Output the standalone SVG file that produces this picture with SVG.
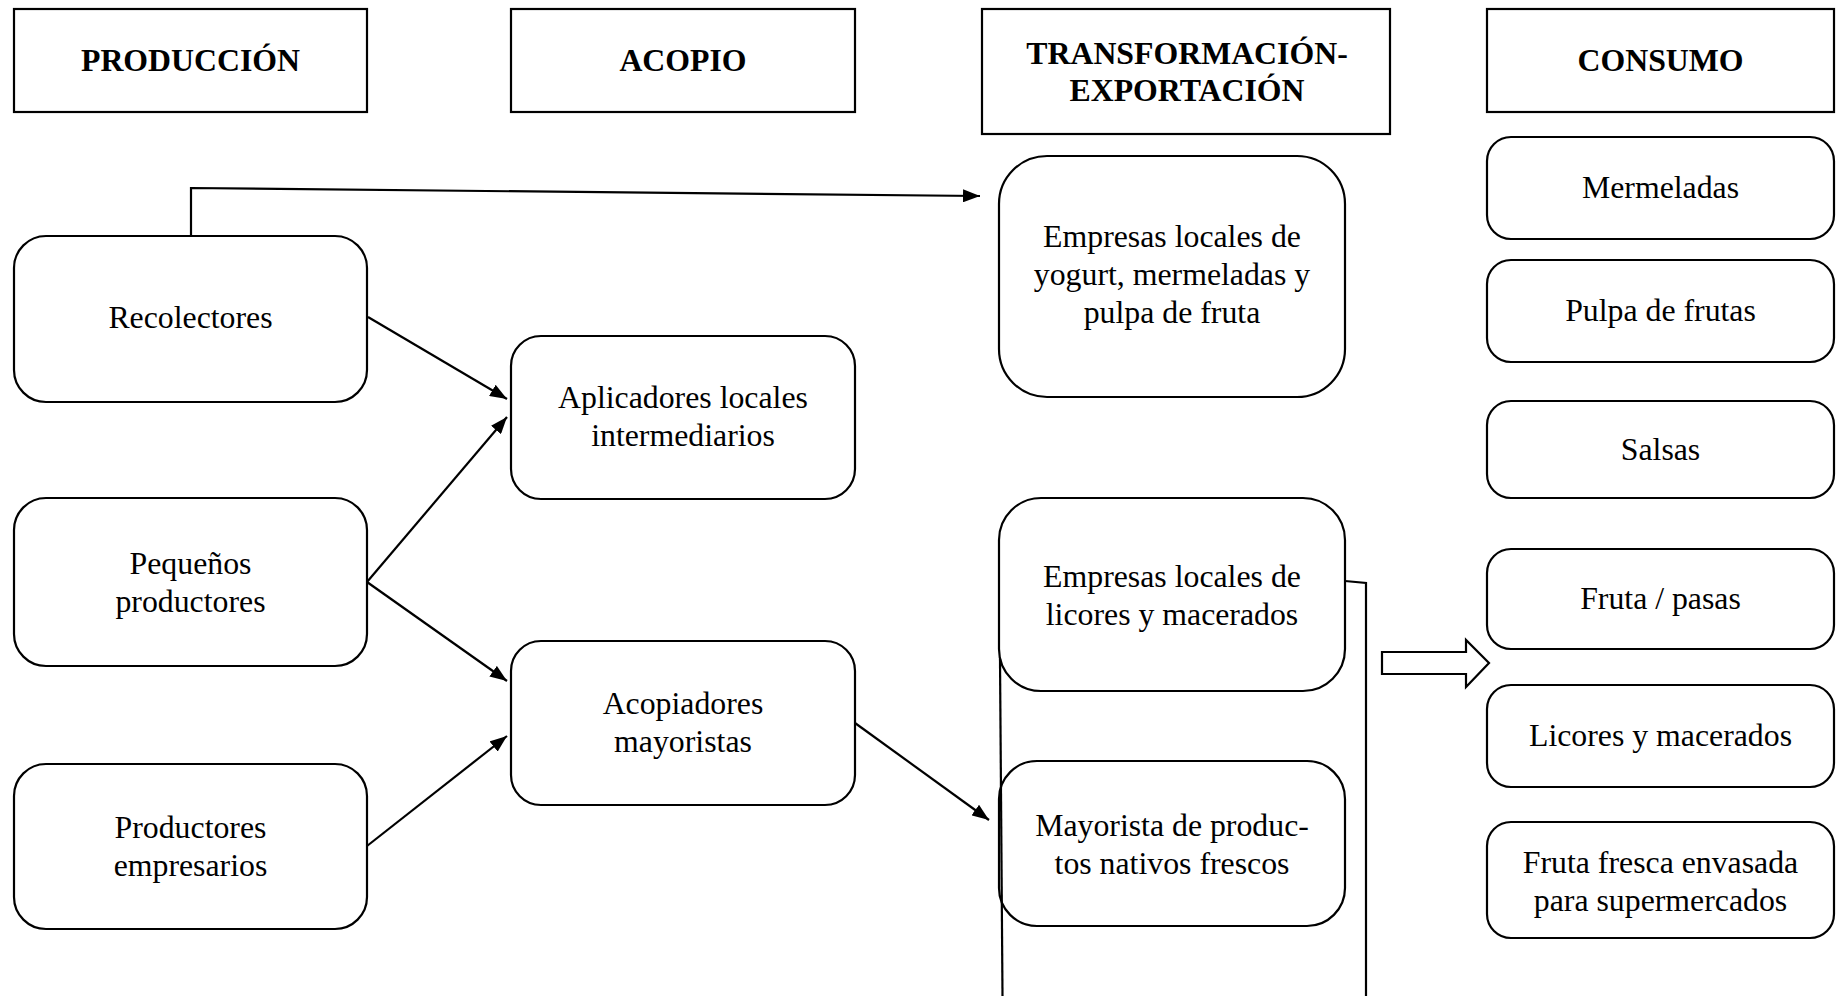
<svg xmlns="http://www.w3.org/2000/svg" width="1842" height="996" viewBox="0 0 1842 996">
<defs>
<style>
.hdr{fill:#fff;stroke:#000;stroke-width:2.2}
.box{fill:#fff;stroke:#000;stroke-width:2.2}
.ht{font-family:"Liberation Serif","Times New Roman",serif;font-weight:bold;font-size:31.8px;text-anchor:middle;fill:#000}
.t{font-family:"Liberation Serif","Times New Roman",serif;font-size:31.8px;text-anchor:middle;fill:#000}
.ln{fill:none;stroke:#000;stroke-width:2.2}
</style>
<marker id="ah" markerUnits="userSpaceOnUse" markerWidth="17" markerHeight="13" refX="17" refY="6.5" orient="auto">
<path d="M0,0 L17,6.5 L0,13 z" fill="#000"/>
</marker>
</defs>
<rect width="1842" height="996" fill="#fff"/>

<g id="h-produccion"><rect class="hdr" x="14" y="9" width="353" height="103"/><text class="ht" x="190.5" y="71">PRODUCCIÓN</text></g>
<g id="h-acopio"><rect class="hdr" x="511" y="9" width="344" height="103"/><text class="ht" x="683" y="71">ACOPIO</text></g>
<g id="h-transformacion"><rect class="hdr" x="982" y="9" width="408" height="125"/><text class="ht" x="1187" y="64">TRANSFORMACIÓN-</text><text class="ht" x="1187" y="101">EXPORTACIÓN</text></g>
<g id="h-consumo"><rect class="hdr" x="1487" y="9" width="347" height="103"/><text class="ht" x="1660.5" y="71">CONSUMO</text></g>

<g id="n-recolectores"><rect class="box" x="14" y="236" width="353" height="166" rx="32"/><text class="t" x="190.5" y="328">Recolectores</text></g>
<g id="n-pequenos"><rect class="box" x="14" y="498" width="353" height="168" rx="32"/><text class="t" x="190.5" y="574">Pequeños</text><text class="t" x="190.5" y="612">productores</text></g>
<g id="n-productores"><rect class="box" x="14" y="764" width="353" height="165" rx="32"/><text class="t" x="190.5" y="838">Productores</text><text class="t" x="190.5" y="876">empresarios</text></g>

<g id="n-aplicadores"><rect class="box" x="511" y="336" width="344" height="163" rx="30"/><text class="t" x="683" y="408">Aplicadores locales</text><text class="t" x="683" y="446">intermediarios</text></g>
<g id="n-acopiadores"><rect class="box" x="511" y="641" width="344" height="164" rx="30"/><text class="t" x="683" y="714">Acopiadores</text><text class="t" x="683" y="752">mayoristas</text></g>

<g id="n-yogurt"><rect class="box" x="999" y="156" width="346" height="241" rx="48"/><text class="t" x="1172" y="247">Empresas locales de</text><text class="t" x="1172" y="285">yogurt, mermeladas y</text><text class="t" x="1172" y="323">pulpa de fruta</text></g>
<g id="n-licores"><rect class="box" x="999" y="498" width="346" height="193" rx="42"/><text class="t" x="1172" y="587">Empresas locales de</text><text class="t" x="1172" y="625">licores y macerados</text></g>
<g id="n-mayorista"><rect class="box" x="999" y="761" width="346" height="165" rx="38"/><text class="t" x="1172" y="836">Mayorista de produc-</text><text class="t" x="1172" y="874">tos nativos frescos</text></g>

<g id="c-mermeladas"><rect class="box" x="1487" y="137" width="347" height="102" rx="24"/><text class="t" x="1660.5" y="198">Mermeladas</text></g>
<g id="c-pulpa"><rect class="box" x="1487" y="260" width="347" height="102" rx="24"/><text class="t" x="1660.5" y="321">Pulpa de frutas</text></g>
<g id="c-salsas"><rect class="box" x="1487" y="401" width="347" height="97" rx="24"/><text class="t" x="1660.5" y="460">Salsas</text></g>
<g id="c-fruta"><rect class="box" x="1487" y="549" width="347" height="100" rx="24"/><text class="t" x="1660.5" y="609">Fruta / pasas</text></g>
<g id="c-licores"><rect class="box" x="1487" y="685" width="347" height="102" rx="24"/><text class="t" x="1660.5" y="746">Licores y macerados</text></g>
<g id="c-fresca"><rect class="box" x="1487" y="822" width="347" height="116" rx="24"/><text class="t" x="1660.5" y="873">Fruta fresca envasada</text><text class="t" x="1660.5" y="911">para supermercados</text></g>

<g id="connectors">
<polyline class="ln" points="191,236 191,188 980,196" marker-end="url(#ah)"/>
<line class="ln" x1="368" y1="317" x2="507" y2="399" marker-end="url(#ah)"/>
<line class="ln" x1="367" y1="582" x2="507" y2="417" marker-end="url(#ah)"/>
<line class="ln" x1="367" y1="582" x2="507" y2="681" marker-end="url(#ah)"/>
<line class="ln" x1="367" y1="846" x2="507" y2="736" marker-end="url(#ah)"/>
<line class="ln" x1="855" y1="723" x2="989" y2="820" marker-end="url(#ah)"/>
<line class="ln" x1="1000" y1="659" x2="1002.5" y2="996"/>
<polyline class="ln" points="1345,581 1366,583 1366,996"/>
<polygon class="ln" fill="#fff" points="1382,652 1466,652 1466,640 1489,663 1466,687 1466,674 1382,674"/>
</g>
</svg>
